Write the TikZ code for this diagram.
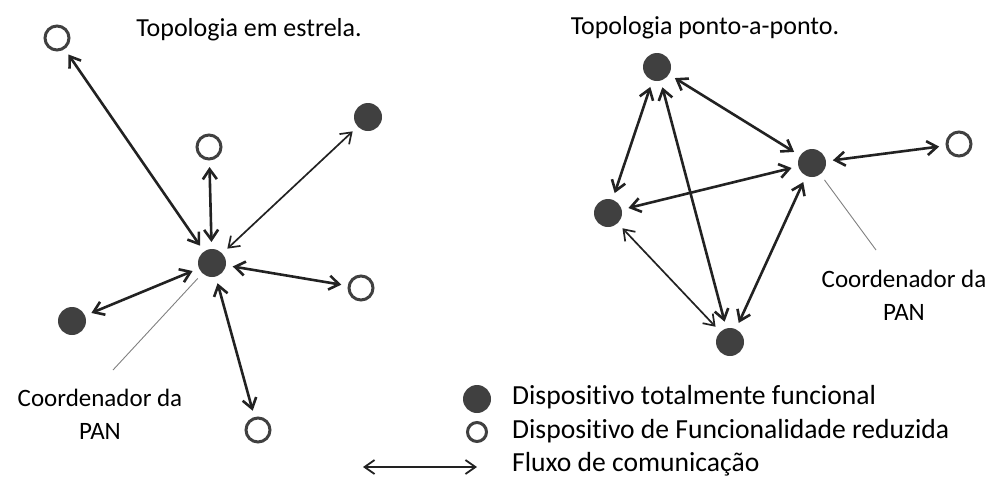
\documentclass[tikz,border=0pt]{standalone}
\usepackage{fontspec}
\setmainfont{Carlito}[Ligatures=NoCommon]
\usetikzlibrary{arrows.meta}

\definecolor{dotgray}{HTML}{404040}
\definecolor{linegray}{HTML}{222222}

\begin{document}
\begin{tikzpicture}[x = 1pt, y = -1pt, >={Straight Barb[length=10pt,width=14pt]},
  full/.style = {circle, fill=dotgray, minimum size=28pt, inner sep=0pt, outer sep=7pt},
  reduced/.style = {circle, draw=dotgray, line width=3pt, minimum size=24pt, inner sep=0pt, outer sep=8pt},
  link/.style = {<->, line width=2.6pt, draw=linegray},
  thinlink/.style = {<->, line width=1.7pt, draw=linegray},
  leader/.style = {draw=gray, line width=0.9pt},
  title/.style = {font=\fontsize{26}{30}\selectfont, anchor=base, inner sep=0pt},
  caption/.style = {font=\fontsize{25}{33}\selectfont, align=center, anchor=north, inner sep=0pt},
  legend/.style = {font=\fontsize{27.6}{33}\selectfont, anchor=base west, inner sep=0pt}]

\useasboundingbox (0,0) rectangle (994,477);

% titles
\node[title] (startitle) at (249,36) {Topologia em estrela.};
\node[title] (meshtitle) at (705,34) {Topologia ponto-a-ponto.};

% star
\node[full] (hub) at (212,263) {};
\node[reduced] (s1) at (57,38) {};
\node[reduced] (s2) at (209,147) {};
\node[full] (s3) at (368,117) {};
\node[reduced] (s4) at (361,288) {};
\node[full] (s5) at (72,321) {};
\node[reduced] (s6) at (258,430) {};
\foreach \n in {s1,s2,s4,s5,s6}
  \draw[link] (hub) -- (\n);
\draw[thinlink] (hub) -- (s3);

\node[caption] (capstar) at (100,389) {Coordenador da\\PAN};
\coordinate (leadstar) at (113,370);
\draw[leader] (hub) -- (leadstar);

% mesh
\node[full] (top) at (657,67) {};
\node[full] (coord) at (812,163) {};
\node[reduced] (far) at (959,144) {};
\node[full] (left) at (608,213) {};
\node[full] (bottom) at (730,342) {};
\foreach \a/\b in {top/coord, top/left, top/bottom, left/coord, coord/bottom, coord/far}
  \draw[link] (\a) -- (\b);
\draw[thinlink] (left) -- (bottom);

\node[caption] (capmesh) at (904,270) {Coordenador da\\PAN};
\coordinate (leadmesh) at (876,250);
\draw[leader] (coord) -- (leadmesh);

% legend
\node[full, outer sep=0pt] (keyfull) at (477,399) {};
\node[reduced, minimum size=19pt, outer sep=0pt] (keyred) at (477,432) {};
\coordinate (keyA) at (363,467);
\coordinate (keyB) at (477,467);
\draw[thinlink, line width=1.8pt] (keyA) -- (keyB);

\node[legend] (txtfull) at (512,404) {Dispositivo totalmente funcional};
\node[legend] (txtred) at (512,438) {Dispositivo de Funcionalidade reduzida};
\node[legend] (txtflow) at (512,471) {Fluxo de comunicação};

\end{tikzpicture}
\end{document}
